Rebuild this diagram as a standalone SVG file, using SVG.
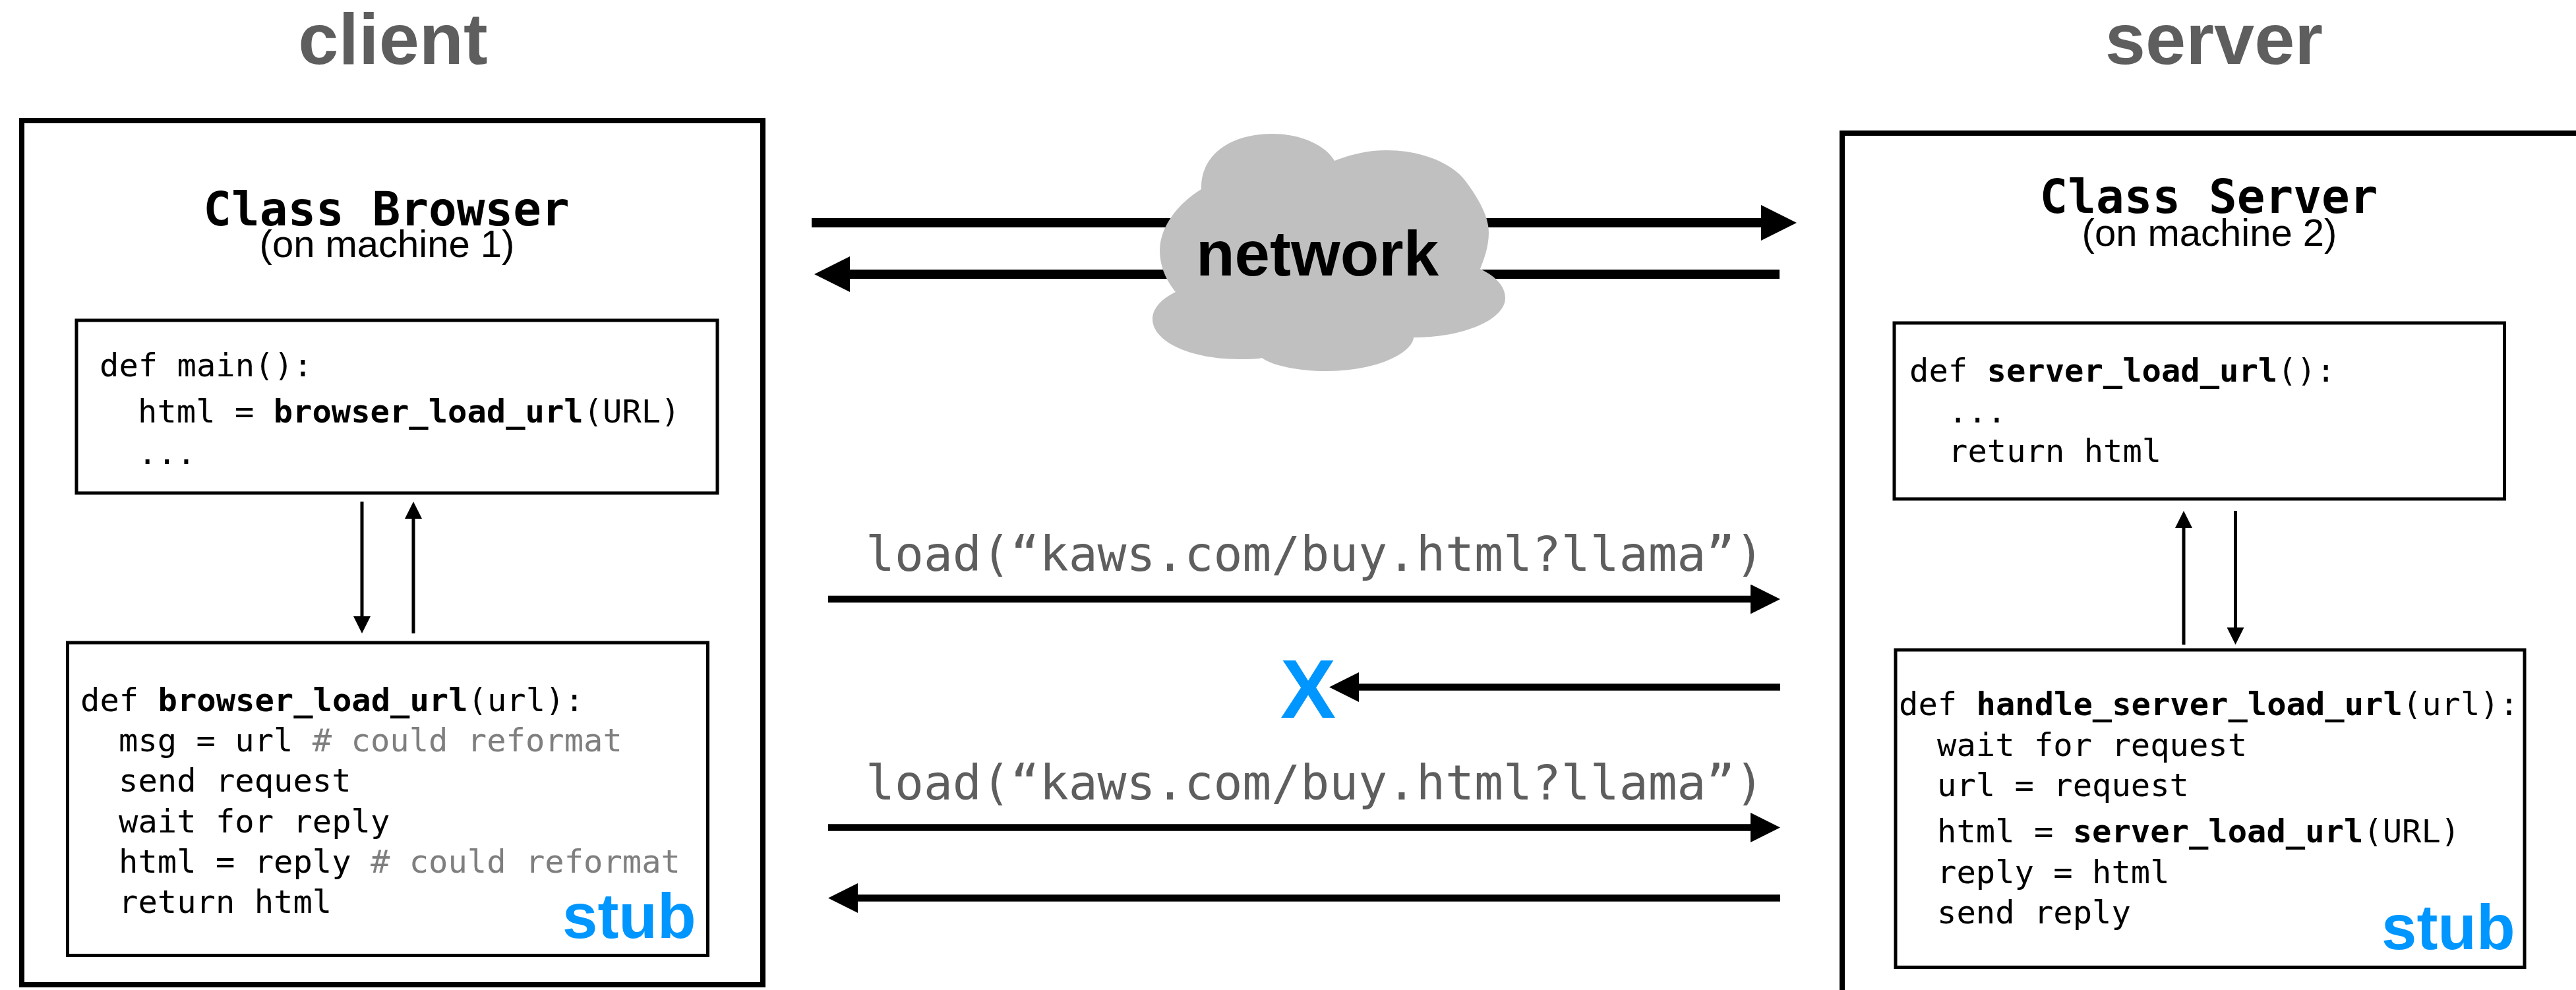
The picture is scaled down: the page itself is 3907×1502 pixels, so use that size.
<svg xmlns="http://www.w3.org/2000/svg" width="3907" height="1502" viewBox="0 0 3907 1502">
<style>
text{white-space:pre}
.h{font:bold 110px "Liberation Sans",Arial,sans-serif;fill:#5e5e5e;text-anchor:middle}
.t{font:bold 71px "DejaVu Sans Mono",monospace;fill:#000;text-anchor:middle}
.s{font:58px "Liberation Sans",Arial,sans-serif;fill:#000;text-anchor:middle}
.c{font:48.800px "DejaVu Sans Mono",monospace;fill:#000}
.c .b{font-weight:bold}
.c .g{fill:#7f7f7f}
.stub{font:bold 96px "Liberation Sans",Arial,sans-serif;fill:#0096ff}
.load{font:73px "DejaVu Sans Mono",monospace;fill:#5e5e5e}
.box{fill:#fff;stroke:#000;stroke-width:5}
.outer{fill:#fff;stroke:#000;stroke-width:8}
.big{stroke:#000;stroke-width:14;fill:none}
.mid{stroke:#000;stroke-width:10.5;fill:none}
.sm{stroke:#000;stroke-width:5;fill:none}
</style>
<defs>
<marker id="hb" markerUnits="userSpaceOnUse" markerWidth="54" markerHeight="54" refX="0" refY="27" orient="auto"><path d="M0 0L54 27L0 54Z"/></marker>
<marker id="hm" markerUnits="userSpaceOnUse" markerWidth="45" markerHeight="45" refX="0" refY="22.5" orient="auto"><path d="M0 0L45 22.5L0 45Z"/></marker>
<marker id="hs" markerUnits="userSpaceOnUse" markerWidth="26" markerHeight="26" refX="0" refY="13" orient="auto"><path d="M0 0L26 13L0 26Z"/></marker>
</defs>
<rect width="3907" height="1502" fill="#fff"/>
<g id="client-label"><text class="h" x="596" y="97">client</text></g>
<g id="server-label"><text class="h" x="3358" y="97">server</text></g>
<g id="client">
<rect class="outer" x="33" y="183" width="1124" height="1311"/>
<text class="t" x="586" y="342">Class Browser</text>
<text class="s" x="587" y="390">(on machine 1)</text>
</g>
<g id="server">
<rect class="outer" x="2794" y="202" width="1300" height="1400"/>
<text class="t" x="3350" y="323">Class Server</text>
<text class="s" x="3351" y="373">(on machine 2)</text>
</g>
<g id="client-main">
<rect class="box" x="116" y="486" width="972" height="262"/>
<text class="c" x="151" y="571">def main():</text>
<text class="c" x="209" y="641">html = <tspan class="b">browser_load_url</tspan>(URL)</text>
<text class="c" x="209" y="704">...</text>
</g>
<g id="client-stub">
<rect class="box" x="102.500" y="975" width="971" height="474.500"/>
<text class="c" x="122" y="1079">def <tspan class="b">browser_load_url</tspan>(url):</text>
<text class="c" x="180" y="1140">msg = url <tspan class="g"># could reformat</tspan></text>
<text class="c" x="180" y="1201">send request</text>
<text class="c" x="180" y="1263">wait for reply</text>
<text class="c" x="180" y="1324">html = reply <tspan class="g"># could reformat</tspan></text>
<text class="c" x="180" y="1385">return html</text>
<text class="stub" x="853" y="1423">stub</text>
</g>
<g id="server-main">
<rect class="box" x="2873" y="490" width="925.500" height="267"/>
<text class="c" x="2896" y="579">def <tspan class="b">server_load_url</tspan>():</text>
<text class="c" x="2955" y="641">...</text>
<text class="c" x="2955" y="701">return html</text>
</g>
<g id="server-stub">
<rect class="box" x="2875" y="986" width="954" height="481.500"/>
<text class="c" x="2880" y="1085">def <tspan class="b">handle_server_load_url</tspan>(url):</text>
<text class="c" x="2938" y="1147">wait for request</text>
<text class="c" x="2938" y="1208">url = request</text>
<text class="c" x="2938" y="1278">html = <tspan class="b">server_load_url</tspan>(URL)</text>
<text class="c" x="2938" y="1340">reply = html</text>
<text class="c" x="2938" y="1401">send reply</text>
<text class="stub" x="3612" y="1440">stub</text>
</g>
<g id="connectors">
<line class="big" x1="1231" y1="338" x2="2671" y2="338" marker-end="url(#hb)"/>
<line class="big" x1="2699" y1="416" x2="1289" y2="416" marker-end="url(#hb)"/>
<line class="mid" x1="1256" y1="909" x2="2655" y2="909" marker-end="url(#hm)"/>
<line class="mid" x1="2700" y1="1042.500" x2="2061" y2="1042.500" marker-end="url(#hm)"/>
<line class="mid" x1="1256" y1="1255.500" x2="2655" y2="1255.500" marker-end="url(#hm)"/>
<line class="mid" x1="2700" y1="1362.500" x2="1301" y2="1362.500" marker-end="url(#hm)"/>
<line class="sm" x1="549" y1="761" x2="549" y2="935" marker-end="url(#hs)"/>
<line class="sm" x1="627" y1="961" x2="627" y2="787" marker-end="url(#hs)"/>
<line class="sm" x1="3312" y1="978" x2="3312" y2="801" marker-end="url(#hs)"/>
<line class="sm" x1="3390.500" y1="775" x2="3390.500" y2="952" marker-end="url(#hs)"/>
</g>
<g id="network">
<path fill="#c0c0c0" d="M1822,287C1820,240 1860,203 1930,203C1975,203 2012,222 2024,244C2045,236 2070,228 2103,228C2160,228 2205,250 2223,275C2245,305 2258,330 2258,353C2258,375 2250,395 2245,408C2270,420 2283,435 2283,452C2283,485 2220,512 2144,512C2142,535 2090,563 2011,563C1970,563 1930,555 1914,543C1905,545 1890,545 1879,545C1805,545 1748,518 1748,484C1748,468 1762,453 1783,443C1768,425 1759,403 1759,380C1759,345 1785,310 1822,287Z"/>
<text x="1998" y="418" text-anchor="middle" style="font:bold 96px 'Liberation Sans',Arial,sans-serif">network</text>
</g>
<g id="load-1"><text class="load" x="1313" y="866">load(“kaws.com/buy.html?llama”)</text></g>
<g id="load-2"><text class="load" x="1313" y="1213">load(“kaws.com/buy.html?llama”)</text></g>
<g id="x-mark"><text x="1984" y="1089" text-anchor="middle" style="font:bold 126px 'Liberation Sans',Arial,sans-serif;fill:#0096ff">X</text></g>
</svg>
